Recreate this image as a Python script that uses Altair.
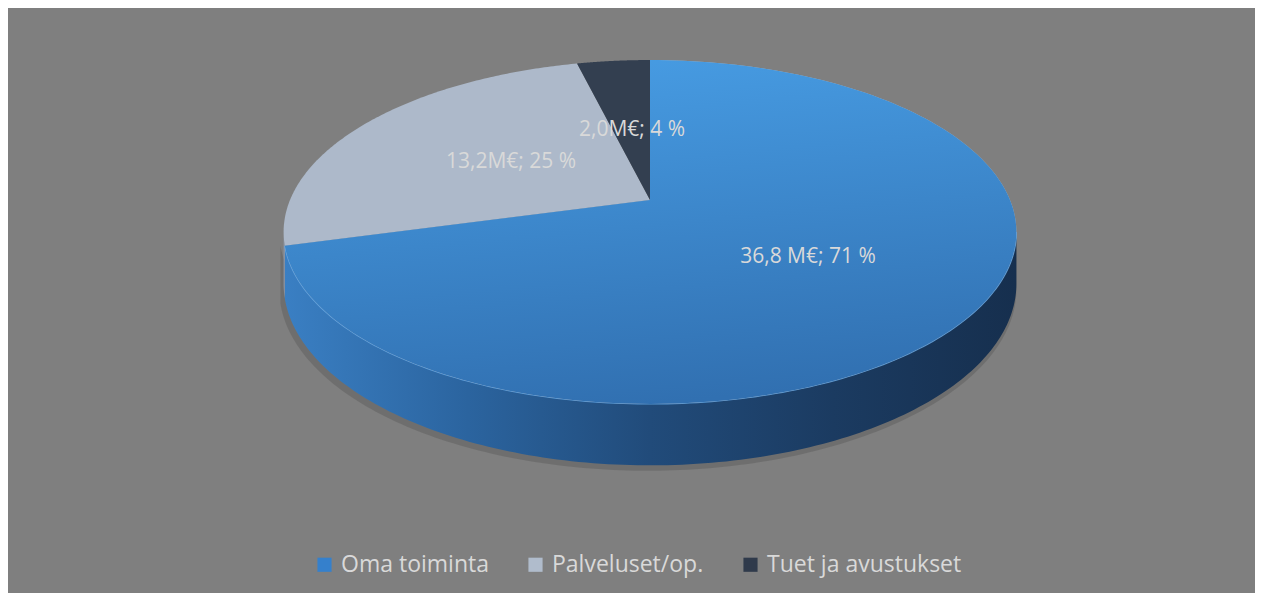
import math
import altair as alt
import pandas as pd

# ---- data ----
categories = ["Oma toiminta", "Palveluset/op.", "Tuet ja avustukset"]
values = [36.8, 13.2, 2.0]
labels = ["36,8 M€; 71 %", "13,2M€; 25 %", "2,0M€; 4 %"]

# ---- styling ----
top_colors = ["#adb9ca", "#adb9ca", "#333f50"]
legend_colors = ["#3580cc", "#b0bccc", "#2f3a4b"]
font = "Open Sans"

df = pd.DataFrame({"cat": categories, "value": values, "label": labels,
                   "idx": list(range(len(categories)))})

W, H = 1247, 585          # chart size (page margin 8px)
CX, CY = 642, 192         # apex of the pie in chart pixels
R = 360.0                 # horizontal radius in px (unit of the scales)
P = 0.186                 # perspective strength
T = 166.0 / R             # vertical squash
D = 50.0 / R              # depth of the side wall
N = 160                   # points per slice outline

xs = alt.Scale(domain=[-CX / R, (W - CX) / R], nice=False, zero=False)
ys = alt.Scale(domain=[-(H - CY) / R, CY / R], nice=False, zero=False)

base = (
    alt.Chart(df)
    .transform_joinaggregate(total="sum(value)")
    .transform_window(cum="sum(value)", sort=[alt.SortField("idx")], frame=[None, 0])
    .transform_calculate(a0="2*PI*(datum.cum-datum.value)/datum.total")
    .transform_calculate(a1="2*PI*datum.cum/datum.total")
)

# ---------- legend carrier (hidden beneath the top face) ----------
leg = alt.Chart(df).mark_square(size=4, opacity=1).encode(
    x=alt.value(CX), y=alt.value(CY + 80),
    color=alt.Color(
        "cat:N", scale=alt.Scale(domain=categories, range=legend_colors), sort=categories,
        legend=alt.Legend(
            title=None, orient="none", direction="horizontal",
            legendX=305, legendY=545, padding=0,
            symbolType="square", symbolSize=200, symbolOpacity=1,
            symbolStrokeWidth=0,
            labelFont=font, labelFontSize=23, labelColor="#d9d9d9",
            labelOffset=5, columnPadding=35, labelLimit=0,
        ),
    ),
)

# ---------- top face ----------
top_data = (
    base.transform_calculate(steps=f"sequence(0,{N + 2})")
    .transform_flatten(["steps"])
    .transform_calculate(ang=f"datum.a0+(datum.a1-datum.a0)*min(datum.steps,{N})/{N}")
    .transform_calculate(rim=f"datum.steps<={N}?1:0")
    .transform_calculate(s=f"1/(1+{P}*cos(datum.ang))")
    .transform_calculate(px="datum.rim*sin(datum.ang)*datum.s")
    .transform_calculate(py=f"datum.rim*{T}*cos(datum.ang)*datum.s")
)
enc_top = dict(
    x=alt.X("px:Q", scale=xs, axis=None),
    y=alt.Y("py:Q", scale=ys, axis=None),
    order=alt.Order("steps:Q"),
    detail="cat:N",
)
top_flat = top_data.mark_line(filled=True, interpolate="linear-closed", strokeWidth=0).encode(
    fill=alt.Fill("cat:N", scale=alt.Scale(domain=categories, range=top_colors), legend=None),
    **enc_top
)
top_oma = top_data.transform_filter("datum.idx==0").mark_line(
    filled=True, interpolate="linear-closed", strokeWidth=0,
    fill=alt.Gradient(gradient="linear", x1=0.3, y1=0, x2=0.5, y2=1,
                      stops=[alt.GradientStop(offset=0, color="#479ce3"),
                             alt.GradientStop(offset=1, color="#3170b1")]),
).encode(**enc_top)

# ---------- side wall ----------
thL = math.acos(-P)
thR = 2 * math.pi - thL
side_data = (
    base.transform_calculate(b0=f"max(datum.a0,{thL})")
    .transform_calculate(b1=f"min(datum.a1,{thR})")
    .transform_filter("datum.b1>datum.b0")
    .transform_calculate(steps=f"sequence(0,{N + 1})")
    .transform_flatten(["steps"])
    .transform_calculate(ang=f"datum.b0+(datum.b1-datum.b0)*datum.steps/{N}")
    .transform_calculate(s=f"1/(1+{P}*cos(datum.ang))")
    .transform_calculate(px="sin(datum.ang)*datum.s")
    .transform_calculate(ytop=f"{T}*cos(datum.ang)*datum.s")
    .transform_calculate(ybot=f"datum.ytop-{D}*datum.s")
)
enc_side = dict(
    x=alt.X("px:Q", scale=xs, axis=None),
    y=alt.Y("ytop:Q", scale=ys, axis=None),
    y2="ybot:Q",
)
shadow = side_data.transform_filter("datum.idx==0").transform_calculate(
    sx="datum.px*1.006-0.006").transform_calculate(sy="datum.ybot-0.015").mark_area(
    color="#6a6a6a", opacity=0.8
).encode(
    x=alt.X("sx:Q", scale=xs, axis=None),
    y=alt.Y("sy:Q", scale=ys, axis=None),
    y2="ytop:Q",
)

side_oma = side_data.transform_filter("datum.idx==0").mark_area(
    fill=alt.Gradient(gradient="linear", x1=0, y1=0, x2=1, y2=0,
                      stops=[alt.GradientStop(offset=0, color="#3a7fc3"),
                             alt.GradientStop(offset=0.25, color="#2b649f"),
                             alt.GradientStop(offset=0.5, color="#214b7a"),
                             alt.GradientStop(offset=0.75, color="#1b3b61"),
                             alt.GradientStop(offset=1, color="#162f4e")]),
).encode(**enc_side)
side_other = side_data.transform_filter("datum.idx!=0").mark_area(color="#8c98a9").encode(**enc_side)
rim = side_data.transform_filter("datum.idx==0").mark_line(
    color="#63abec", strokeWidth=1.3, opacity=0.8
).encode(
    x=alt.X("px:Q", scale=xs, axis=None),
    y=alt.Y("ytop:Q", scale=ys, axis=None),
    order=alt.Order("steps:Q"),
)

# ---------- labels ----------
lab = (
    base.transform_calculate(mid="(datum.a0+datum.a1)/2")
    .transform_calculate(s=f"1/(1+{P}*cos(datum.mid))")
    .transform_calculate(lx="0.49*sin(datum.mid)*datum.s")
    .transform_calculate(ly=f"0.5*{T}*cos(datum.mid)*datum.s")
    .mark_text(font=font, fontSize=21, color="#d9d9d9")
    .encode(
        x=alt.X("lx:Q", scale=xs, axis=None),
        y=alt.Y("ly:Q", scale=ys, axis=None),
        text="label:N",
    )
)

chart = (
    alt.layer(leg, shadow, side_oma, side_other, rim, top_flat, top_oma, lab)
    .properties(width=W, height=H, padding=0, autosize=alt.AutoSizeParams(type="none"),
                background="#7f7f7f")
    .configure_view(stroke=None)
)

chart.save("out.html", embed_options={"renderer": "svg", "actions": False})
